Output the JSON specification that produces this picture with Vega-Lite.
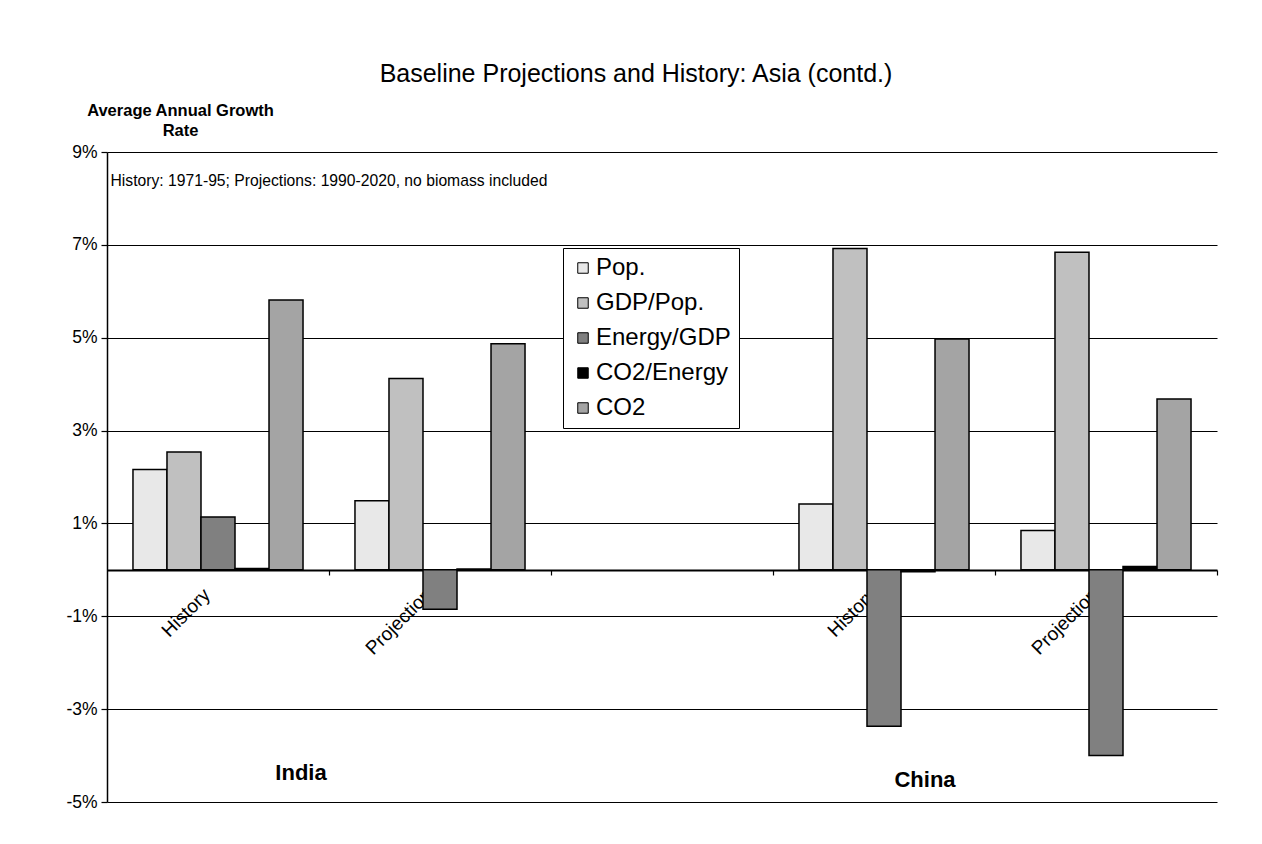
{
  "$schema": "https://vega.github.io/schema/vega-lite/v6.json",
  "width": 1110,
  "height": 650,
  "autosize": {"type": "none"},
  "padding": {"left": 107, "top": 152, "right": 45, "bottom": 42},
  "background": "white",
  "config": {
    "view": {"stroke": null},
    "font": "Liberation Sans"
  },
  "title": {
    "text": "Baseline Projections and History: Asia (contd.)",
    "fontSize": 25,
    "font": "Liberation Sans",
    "fontWeight": "normal",
    "color": "black",
    "anchor": "middle",
    "frame": "group",
    "dx": -26,
    "offset": 15
  },
  "layer": [
    {
      "data": {
        "values": [
          {"case": "India History", "series": "Pop.", "value": 2.16},
          {"case": "India History", "series": "GDP/Pop.", "value": 2.54},
          {"case": "India History", "series": "Energy/GDP", "value": 1.14},
          {"case": "India History", "series": "CO2/Energy", "value": 0.03},
          {"case": "India History", "series": "CO2", "value": 5.81},
          {"case": "India Projection", "series": "Pop.", "value": 1.49},
          {"case": "India Projection", "series": "GDP/Pop.", "value": 4.12},
          {"case": "India Projection", "series": "Energy/GDP", "value": -0.85},
          {"case": "India Projection", "series": "CO2/Energy", "value": 0.02},
          {"case": "India Projection", "series": "CO2", "value": 4.87},
          {"case": "China History", "series": "Pop.", "value": 1.42},
          {"case": "China History", "series": "GDP/Pop.", "value": 6.92},
          {"case": "China History", "series": "Energy/GDP", "value": -3.37},
          {"case": "China History", "series": "CO2/Energy", "value": -0.04},
          {"case": "China History", "series": "CO2", "value": 4.97},
          {"case": "China Projection", "series": "Pop.", "value": 0.85},
          {"case": "China Projection", "series": "GDP/Pop.", "value": 6.84},
          {"case": "China Projection", "series": "Energy/GDP", "value": -4.0},
          {"case": "China Projection", "series": "CO2/Energy", "value": 0.07},
          {"case": "China Projection", "series": "CO2", "value": 3.68}
        ]
      },
      "mark": {"type": "bar", "stroke": "black", "strokeWidth": 1.5},
      "encoding": {
        "x": {
          "field": "case",
          "type": "nominal",
          "sort": null,
          "scale": {
            "domain": ["India History", "India Projection", "gap", "China History", "China Projection"],
            "paddingInner": 0.234,
            "paddingOuter": 0.117
          },
          "axis": {
            "orient": "bottom",
            "offset": -232,
            "title": "History: 1971-95; Projections: 1990-2020,  no biomass included",
            "titleFontSize": 15.7,
            "titleFontWeight": "normal",
            "titleFont": "Liberation Sans",
            "titleColor": "black",
            "titleAlign": "left",
            "titleBaseline": "middle",
            "titleAngle": 0,
            "titleX": 3,
            "titleY": -390,
            "labelExpr": "datum.value == 'gap' ? '' : (indexof(datum.value, 'History') >= 0 ? 'History' : 'Projection')",
            "labelAngle": -45,
            "labelAlign": "right",
            "labelBaseline": "top",
            "labelFontSize": 19,
            "labelFont": "Liberation Sans",
            "labelColor": "black",
            "labelPadding": 10,
            "labelOverlap": false,
            "bandPosition": 1,
            "tickOffset": 26,
            "labelOffset": -44,
            "tickExtra": false,
            "tickSize": 5,
            "tickColor": "black",
            "tickWidth": 1.2,
            "domainColor": "black",
            "domainWidth": 2,
            "grid": false
          }
        },
        "xOffset": {
          "field": "series",
          "type": "nominal",
          "sort": null,
          "scale": {
            "domain": ["Pop.", "GDP/Pop.", "Energy/GDP", "CO2/Energy", "CO2"],
            "paddingInner": 0,
            "paddingOuter": 0
          }
        },
        "y": {
          "field": "value",
          "type": "quantitative",
          "scale": {"domain": [-5, 9], "nice": false, "zero": false},
          "axis": {
            "values": [-5, -3, -1, 1, 3, 5, 7, 9],
            "labelExpr": "datum.value + '%'",
            "grid": true,
            "gridColor": "black",
            "gridWidth": 1.2,
            "gridOpacity": 1,
            "domainColor": "black",
            "domainWidth": 1.5,
            "tickColor": "black",
            "tickSize": 6,
            "tickWidth": 1.2,
            "labelFontSize": 17.5,
            "labelFont": "Liberation Sans",
            "labelColor": "black",
            "labelPadding": 4,
            "title": ["Average Annual Growth", "Rate"],
            "titleAngle": 0,
            "titleFontSize": 16.5,
            "titleFontWeight": "bold",
            "titleFont": "Liberation Sans",
            "titleColor": "black",
            "titleAlign": "center",
            "titleBaseline": "alphabetic",
            "titleX": 73,
            "titleY": -37,
            "titleLineHeight": 20
          }
        },
        "y2": {"datum": 0},
        "color": {
          "field": "series",
          "type": "nominal",
          "sort": null,
          "scale": {
            "domain": ["Pop.", "GDP/Pop.", "Energy/GDP", "CO2/Energy", "CO2"],
            "range": ["#e8e8e8", "#c0c0c0", "#808080", "#000000", "#a4a4a4"]
          },
          "legend": {
            "orient": "none",
            "legendX": 456,
            "legendY": 96,
            "title": null,
            "strokeColor": "black",
            "fillColor": "white",
            "padding": 8,
            "symbolType": "square",
            "symbolSize": 110,
            "symbolStrokeColor": "black",
            "symbolStrokeWidth": 1,
            "symbolOpacity": 1,
            "labelFontSize": 24,
            "labelFont": "Liberation Sans",
            "labelColor": "black",
            "labelOffset": 1,
            "rowPadding": 11
          }
        }
      }
    },
    {
      "data": {"values": [{}]},
      "mark": {"type": "text", "align": "center", "baseline": "middle", "fontSize": 22, "fontWeight": "bold", "font": "Liberation Sans", "color": "black", "dx": 83},
      "encoding": {
        "x": {"datum": "India History", "type": "nominal"},
        "y": {"datum": -4.37, "type": "quantitative"},
        "text": {"value": "India"}
      }
    },
    {
      "data": {"values": [{}]},
      "mark": {"type": "text", "align": "center", "baseline": "middle", "fontSize": 22, "fontWeight": "bold", "font": "Liberation Sans", "color": "black", "dx": 41},
      "encoding": {
        "x": {"datum": "China History", "type": "nominal"},
        "y": {"datum": -4.53, "type": "quantitative"},
        "text": {"value": "China"}
      }
    }
  ]
}
